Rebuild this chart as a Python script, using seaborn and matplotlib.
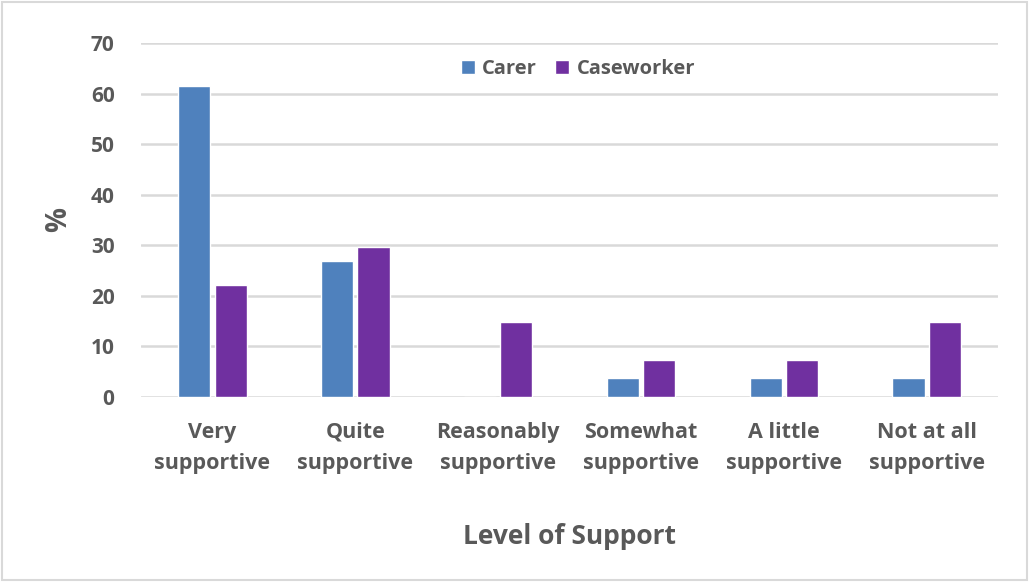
import pandas as pd
import matplotlib.pyplot as plt
import seaborn as sns
from matplotlib.patches import Rectangle

# Данные
levels = ['Very\nsupportive', 'Quite\nsupportive', 'Reasonably\nsupportive',
          'Somewhat\nsupportive', 'A little\nsupportive', 'Not at all\nsupportive']
carer = [61.5, 26.9, 0.0, 3.8, 3.8, 3.8]
caseworker = [22.2, 29.6, 14.8, 7.4, 7.4, 14.8]
groups = ['Carer', 'Caseworker']
colors = ['#4F81BD', '#7030A0']

df = pd.DataFrame({
    'level': levels * 2,
    'value': carer + caseworker,
    'group': [groups[0]] * len(levels) + [groups[1]] * len(levels),
})

sns.set_theme(style='white')
plt.rcParams['font.family'] = ['Open Sans', 'DejaVu Sans']
text_color = '#595959'

fig = plt.figure(figsize=(10.29, 5.82), dpi=100)
ax = fig.add_axes([0.137, 0.318, 0.833, 0.608])

sns.barplot(data=df, x='level', y='value', hue='group', palette=colors,
            width=0.51, gap=0.12, saturation=1, ax=ax)

ax.set_ylim(0, 70)
ax.set_yticks(range(0, 71, 10))
ax.set_xlim(-0.5, len(levels) - 0.5)
ax.yaxis.grid(True, color='#D9D9D9', linewidth=1.8)
ax.set_axisbelow(True)
for s in ax.spines.values():
    s.set_visible(False)
ax.tick_params(axis='y', length=0, labelsize=15, labelcolor=text_color, pad=19)
ax.tick_params(axis='x', length=0, labelsize=15.5, labelcolor=text_color, pad=18)
for lbl in ax.get_xticklabels() + ax.get_yticklabels():
    lbl.set_fontweight('bold')
for lbl in ax.get_xticklabels():
    lbl.set_linespacing(1.65)

ax.set_xlabel('Level of Support', fontsize=19, fontweight='bold', color=text_color, labelpad=35)
ax.set_ylabel('%', fontsize=20, fontweight='bold', color=text_color, labelpad=13)

leg = ax.legend(loc='center', bbox_to_anchor=(0.51, 0.927), ncol=2, frameon=False,
                handlelength=0.7, handleheight=0.7, handletextpad=0.35, columnspacing=0.9,
                prop={'size': 14.5, 'weight': 'bold'})
for t in leg.get_texts():
    t.set_color(text_color)

# рамка вокруг рисунка
fig.patches.append(Rectangle((0.002, 0.003), 0.996, 0.994, transform=fig.transFigure,
                             fill=False, edgecolor='#D9D9D9', linewidth=1.5))

plt.savefig('out.png', dpi=100)
plt.close()
